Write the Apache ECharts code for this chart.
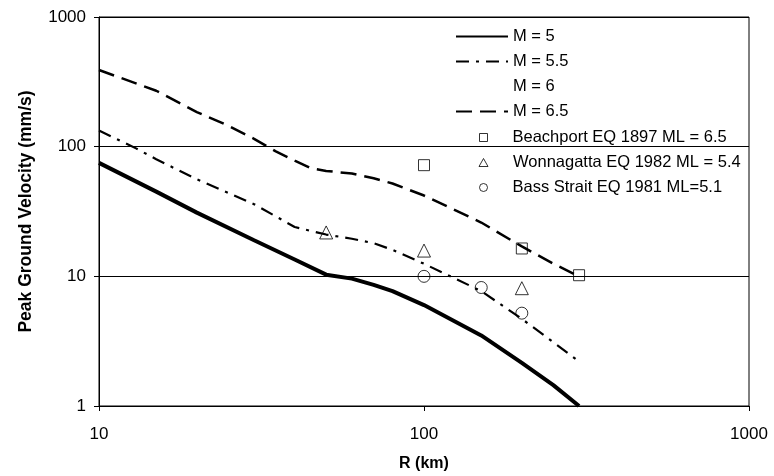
<!DOCTYPE html>
<html>
<head>
<meta charset="utf-8">
<script src="https://cdn.jsdelivr.net/npm/echarts@6/dist/echarts.min.js"></script>
<style>
html,body{margin:0;padding:0;background:#fff;}
#chart{width:774px;height:476px;}
</style>
</head>
<body>
<div id="chart"></div>
<script>
// Distances R (km) and peak ground velocity (mm/s)
const m5R   = [10, 15, 20, 30, 40, 50, 60, 70, 80, 100, 150, 200, 250, 300];
const m5V   = [75, 45, 31, 19, 13.5, 10.3, 9.6, 8.6, 7.7, 6.0, 3.5, 2.15, 1.45, 1.0];
const m55R  = [10, 13, 15, 20, 25, 30, 35, 40, 50, 60, 70, 80, 100, 150, 200, 250, 300];
const m55V  = [133, 97, 80, 56, 44, 36, 29, 24, 21, 19.5, 18, 16, 12.5, 7.7, 4.7, 3.1, 2.2];
const m6R   = [];
const m6V   = [];
const m65R  = [10, 15, 20, 25, 30, 35, 40, 45, 50, 60, 70, 80, 100, 150, 200, 250, 300];
const m65V  = [390, 270, 185, 145, 115, 92, 78, 68, 65, 62, 57, 52, 42, 26, 17, 12.5, 10];
const beachR = [100, 200, 300];
const beachV = [72, 16.4, 10.2];
const wonnaR = [50, 100, 200];
const wonnaV = [21.8, 15.8, 8.1];
const bassR  = [100, 150, 200];
const bassV  = [10, 8.2, 5.2];
const lineNames = ['M = 5', 'M = 5.5', 'M = 6', 'M = 6.5'];
const pointNames = ['Beachport EQ 1897 ML = 6.5', 'Wonnagatta EQ 1982 ML = 5.4', 'Bass Strait EQ 1981 ML=5.1'];
const pointSymbols = ['rect', 'triangle', 'circle'];
const xTickLabels = {10: '10', 100: '100', 1000: '1000'};
const yTickLabels = {1: '1', 10: '10', 100: '100', 1000: '1000'};

const zip = (a, b) => a.map((x, i) => [x, b[i]]);
const FONT = 'Liberation Sans, Arial, sans-serif';
const lookup = (tbl) => (v) => {
  const k = Math.round(v);
  return tbl[k] !== undefined ? tbl[k] : '';
};

const legendText = {fontFamily: FONT, fontSize: 16.5, color: '#000', lineHeight: 16};

const pointLegends = pointNames.map((n, i) => ({
  data: [{name: n, icon: pointSymbols[i]}],
  orient: 'vertical', left: i === 1 ? 478.5 : 479, top: 129 + i * 25, padding: 0,
  itemWidth: i === 1 ? 9 : 8, itemHeight: 8,
  itemStyle: {borderWidth: 1, borderColor: '#000', color: '#fff'},
  textStyle: Object.assign({padding: [0, 0, 0, 20]}, legendText),
  selectedMode: false
}));

const chart = echarts.init(document.getElementById('chart'), null, {renderer: 'canvas'});
chart.setOption({
  backgroundColor: '#fff',
  animation: false,
  grid: {
    left: 99, right: 25, top: 17, bottom: 70,
    show: true, borderColor: '#000', borderWidth: 1,
    outerBoundsMode: 'none'
  },
  xAxis: {
    type: 'log', logBase: 10, min: 10, max: 1000,
    name: 'R (km)', nameLocation: 'middle', nameGap: 50,
    nameTextStyle: {fontFamily: FONT, fontWeight: 'bold', fontSize: 16, color: '#000'},
    axisLine: {show: true, lineStyle: {color: '#000', width: 1}},
    axisTick: {show: true, inside: false, length: 5, lineStyle: {color: '#000'}},
    minorTick: {show: false},
    axisLabel: {fontFamily: FONT, fontSize: 17, color: '#000', margin: 20, formatter: lookup(xTickLabels)},
    splitLine: {show: false}
  },
  yAxis: {
    type: 'log', logBase: 10, min: 1, max: 1000,
    name: 'Peak Ground Velocity (mm/s)', nameLocation: 'middle', nameGap: 64, nameRotate: 90,
    nameTextStyle: {fontFamily: FONT, fontWeight: 'bold', fontSize: 17.5, color: '#000'},
    axisLine: {show: true, lineStyle: {color: '#000', width: 1}},
    axisTick: {show: true, inside: false, length: 5, lineStyle: {color: '#000'}},
    minorTick: {show: false},
    axisLabel: {fontFamily: FONT, fontSize: 17, color: '#000', margin: 13, formatter: lookup(yTickLabels)},
    splitLine: {show: true, lineStyle: {color: '#000', width: 1}}
  },
  legend: [
    {
      data: lineNames,
      orient: 'vertical', left: 455, top: 28, padding: 0,
      itemWidth: 52, itemHeight: 14, itemGap: 8,
      itemStyle: {color: 'rgba(0,0,0,0)', borderColor: 'rgba(0,0,0,0)', borderWidth: 0},
      textStyle: legendText,
      selectedMode: false
    }
  ].concat(pointLegends),
  series: [
    {
      name: 'M = 5', type: 'line', data: zip(m5R, m5V), symbol: 'none',
      lineStyle: {color: '#000', width: 4, type: 'solid'}, itemStyle: {color: '#000'}, z: 2
    },
    {
      name: 'M = 5.5', type: 'line', data: zip(m55R, m55V), symbol: 'none',
      lineStyle: {color: '#000', width: 2.2, type: [13, 7, 3, 7]}, itemStyle: {color: '#000'}, z: 2
    },
    {
      name: 'M = 6', type: 'line', data: zip(m6R, m6V), symbol: 'none',
      lineStyle: {color: 'rgba(0,0,0,0)', width: 2}, itemStyle: {color: 'rgba(0,0,0,0)'}, z: 2
    },
    {
      name: 'M = 6.5', type: 'line', data: zip(m65R, m65V), symbol: 'none',
      lineStyle: {color: '#000', width: 2.5, type: [16, 8]}, itemStyle: {color: '#000'}, z: 2
    },
    {
      name: pointNames[0], type: 'scatter', data: zip(beachR, beachV), symbol: pointSymbols[0], symbolSize: 11,
      itemStyle: {color: 'rgba(255,255,255,0)', borderColor: '#000', borderWidth: 1}, z: 3
    },
    {
      name: pointNames[1], type: 'scatter', data: zip(wonnaR, wonnaV), symbol: pointSymbols[1], symbolSize: 13,
      itemStyle: {color: 'rgba(255,255,255,0)', borderColor: '#000', borderWidth: 1}, z: 3
    },
    {
      name: pointNames[2], type: 'scatter', data: zip(bassR, bassV), symbol: pointSymbols[2], symbolSize: 12,
      itemStyle: {color: 'rgba(255,255,255,0)', borderColor: '#000', borderWidth: 1}, z: 3
    }
  ]
});
</script>
</body>
</html>
